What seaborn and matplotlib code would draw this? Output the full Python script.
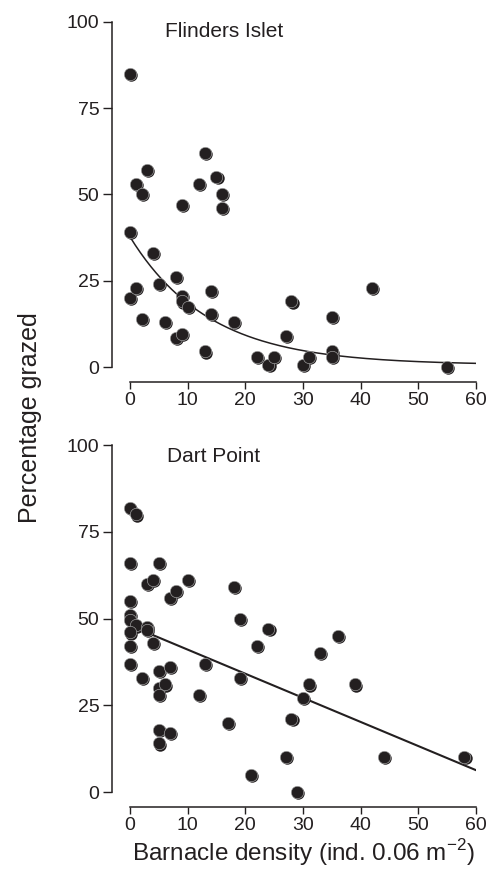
import matplotlib
matplotlib.use('Agg')
import matplotlib.pyplot as plt
import matplotlib.transforms as mtransforms
import numpy as np
import pandas as pd
import seaborn as sns

# Flinders Islet points (barnacle density, % grazed)
flinders_x = [0, 1, 2, 3, 9, 12, 13, 15, 16, 16, 0, 4, 0, 1, 2, 5, 6, 8, 8, 9,
              9, 9, 10, 13, 14, 14, 18, 22, 24, 25, 27, 28, 30, 31, 35, 35, 35, 42, 55]
flinders_y = [85, 53, 50, 57, 47, 53, 62, 55, 50, 46, 39, 33, 20, 23, 14, 24, 13, 26, 8.5, 9.5,
              20.5, 19, 17.5, 4.5, 22, 15.5, 13, 3, 0.5, 3, 9, 19, 0.5, 3, 14.5, 4.5, 3, 23, 0]

# Dart Point points
dart_x = [0, 1, 0, 5, 3, 4, 10, 7, 8, 0, 0, 0, 1, 0, 3, 3, 4, 0, 18, 19, 24, 22, 33, 36,
          0, 2, 5, 7, 13, 19, 5, 6, 5, 12, 31, 39, 30, 17, 28, 5, 7, 5, 27, 44, 58, 21, 29]
dart_y = [82, 80, 66, 66, 60, 61, 61, 56, 58, 55, 51, 49.5, 48, 46, 47.7, 46.7, 43, 42, 59, 50, 47, 42, 40, 45,
          37, 33, 35, 36, 37, 33, 30, 31, 28, 28, 31, 31, 27, 20, 21, 18, 17, 14, 10, 10, 10, 5, 0]

# fitted curves
flinders_fit = dict(a=37.1, b=0.073, c=0.6)   # y = a*exp(-b*x) + c
dart_fit = dict(intercept=48.0, slope=-0.695)  # y = intercept + slope*x

yticks = [0, 25, 50, 75, 100]
xticks = [0, 10, 20, 30, 40, 50, 60]
ink = '#231f20'

sns.set_style('ticks')
plt.rcParams['font.family'] = ['Liberation Sans', 'DejaVu Sans']
plt.rcParams['mathtext.fontset'] = 'custom'
plt.rcParams['mathtext.rm'] = 'Liberation Sans'

fig = plt.figure(figsize=(4.92, 8.72), dpi=100)
ax_top = fig.add_axes([0.2642, 0.5791, 0.7033, 0.3960])
ax_bot = fig.add_axes([0.2642, 0.0917, 0.7033, 0.3979])


def draw_points(ax, x, y):
    df = pd.DataFrame({'x': x, 'y': y})
    # a slightly offset copy gives the shaded "ball" look of the original
    shadow = mtransforms.offset_copy(ax.transData, fig=fig, x=0.8, y=-0.8, units='points')
    sns.scatterplot(data=df, x='x', y='y', ax=ax, color=ink, s=80, linewidth=0,
                    transform=shadow, clip_on=False, zorder=3)
    sns.scatterplot(data=df, x='x', y='y', ax=ax, color=ink, s=80, edgecolor='#a8a8a8',
                    linewidth=0.45, clip_on=False, zorder=4)


xx = np.linspace(0, 60, 200)

# top panel
draw_points(ax_top, flinders_x, flinders_y)
ax_top.plot(xx, flinders_fit['a'] * np.exp(-flinders_fit['b'] * xx) + flinders_fit['c'],
            color=ink, lw=1.1, zorder=2)
ax_top.text(6, 97.3, 'Flinders Islet', fontsize=15, color=ink, va='center', ha='left')

# bottom panel
draw_points(ax_bot, dart_x, dart_y)
ax_bot.plot(xx, dart_fit['intercept'] + dart_fit['slope'] * xx, color=ink, lw=1.5, zorder=2)
ax_bot.text(6.5, 96.8, 'Dart Point', fontsize=15, color=ink, va='center', ha='left')

for ax in (ax_top, ax_bot):
    ax.set_xlim(0, 60)
    ax.set_ylim(0, 100)
    ax.set_xticks(xticks)
    ax.set_yticks(yticks)
    ax.set_xlabel('')
    ax.set_ylabel('')
    ax.tick_params(axis='y', length=6.5, width=1.0, pad=2.5, labelsize=14, colors=ink)
    ax.tick_params(axis='x', length=5, width=1.0, pad=2, labelsize=14, colors=ink)
    sns.despine(ax=ax, offset={'left': 13, 'bottom': 11}, trim=True)
    for side in ('left', 'bottom'):
        ax.spines[side].set_linewidth(1.1)
        ax.spines[side].set_color(ink)

ax_bot.set_xlabel('Barnacle density (ind. 0.06 m$^{\\mathregular{-2}}$)', fontsize=17.5,
                  color=ink, labelpad=2)
fig.text(0.061, 0.521, 'Percentage grazed', rotation=90, fontsize=18, color=ink,
         ha='center', va='center')

fig.savefig('out.png', dpi=100)
